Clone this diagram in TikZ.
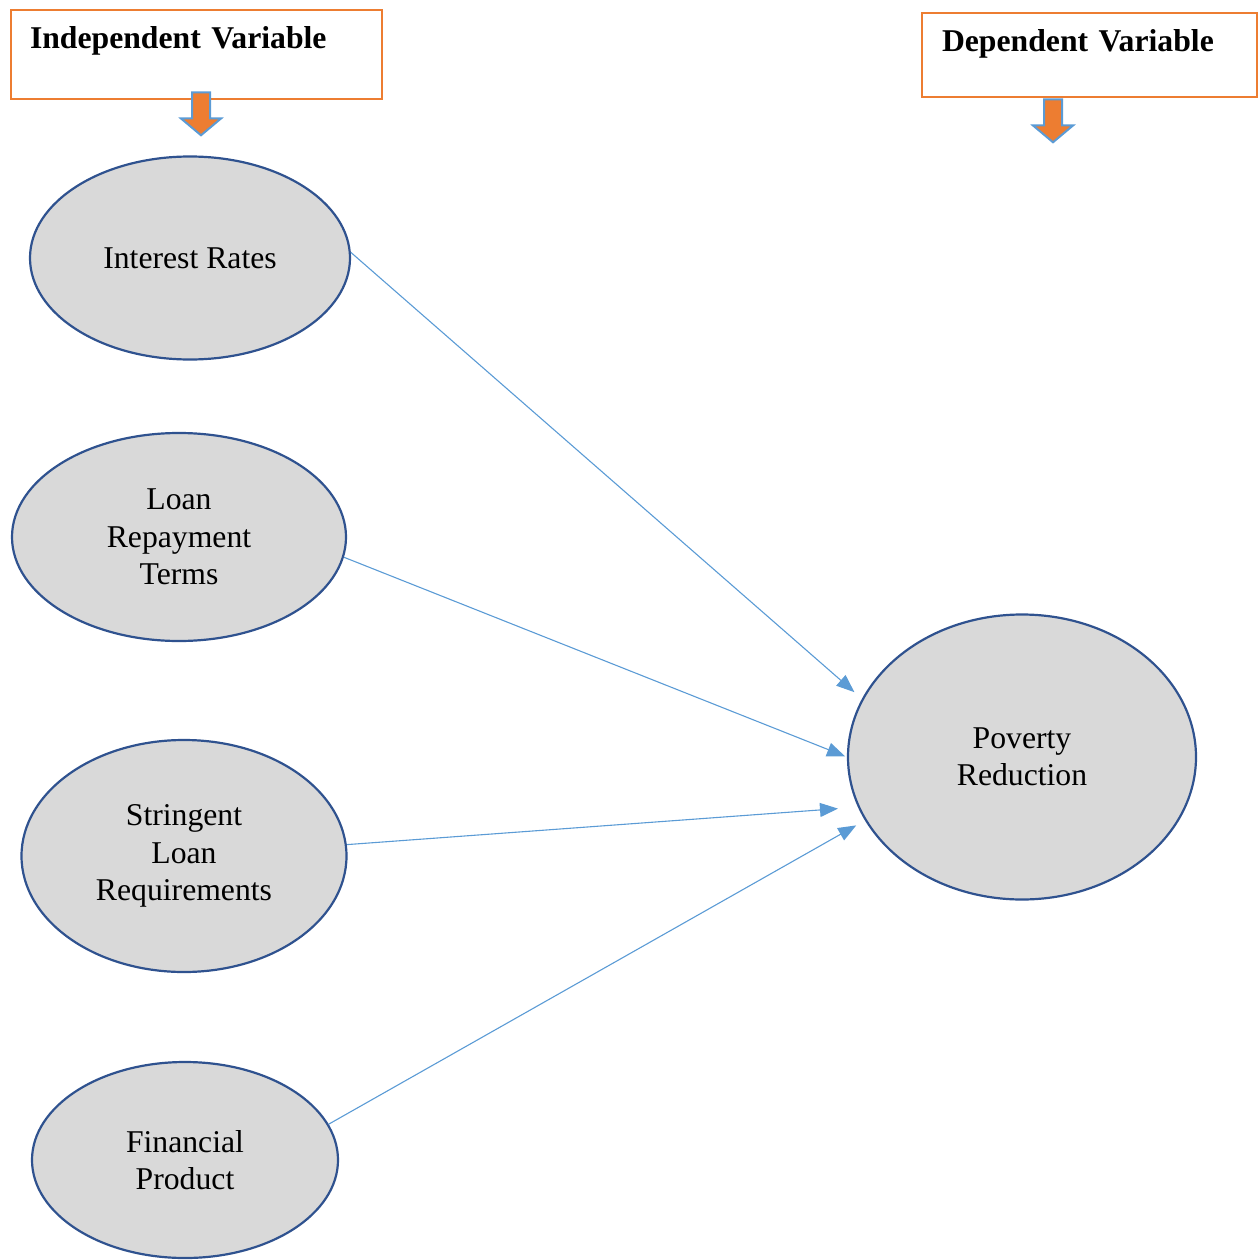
\documentclass[tikz,border=0pt]{standalone}
\usepackage{fontspec}
\setmainfont{Liberation Serif}
\usetikzlibrary{shapes.geometric,shapes.arrows,arrows.meta}
\definecolor{hdrorange}{HTML}{ED7D31}
\definecolor{linkblue}{HTML}{5B9BD5}
\definecolor{ovalgray}{HTML}{D9D9D9}
\definecolor{ovalblue}{HTML}{2F528F}

\begin{document}
\begin{tikzpicture}[x=1pt, y=-1pt,
    oval/.style={ellipse, draw=ovalblue, line width=2.2pt, fill=ovalgray, inner sep=0pt, align=center, font=\fontsize{31.7}{37.5}\selectfont},
    hdr/.style={rectangle, draw=hdrorange, line width=2pt, anchor=north west, inner ysep=0pt, align=left, font=\fontsize{31.7}{38}\selectfont\bfseries},
    hdrarrow/.style={single arrow, rotate=-90, fill=hdrorange, draw=linkblue, line width=2pt, minimum height=43pt, single arrow head extend=11pt, single arrow tip angle=100, inner xsep=0pt, inner ysep=8pt},
    link/.style={draw=linkblue, line width=1.1pt, -{Triangle[length=18pt,width=14pt]}}]
    \useasboundingbox (0,0) rectangle (1258,1260);

    % headers
    \node [hdr, inner xsep=19pt, text width=333pt, text height=39pt, text depth=50pt] (iv) at (10,9) {Independent Variable};
    \node [hdr, inner xsep=20pt, text width=295pt, text height=39pt, text depth=45pt] (dv) at (921,12) {Dependent Variable};
    \node [hdrarrow] (ivarrow) at (201,110) {};
    \node [hdrarrow] (dvarrow) at (1053,117) {};

    % variables
    \node [oval, minimum width=320pt, minimum height=203pt] (ir) at (190,258) {Interest Rates};
    \node [oval, minimum width=334pt, minimum height=208pt] (lrt) at (179,537) {Loan\\Repayment\\Terms};
    \node [oval, minimum width=325pt, minimum height=232pt] (slr) at (184,856) {Stringent\\Loan\\Requirements};
    \node [oval, minimum width=306pt, minimum height=196pt] (fp) at (185,1160) {Financial\\Product};
    \node [oval, minimum width=348pt, minimum height=285pt] (pr) at (1022,757) {Poverty\\Reduction};

    \draw [link, shorten >=10pt] (ir.2) -- (pr.160);
    \draw [link, shorten >=2pt] (lrt.-7) -- (pr.west);
    \draw [link, shorten >=20pt] (slr.4) -- (pr.197);
    \draw [link, shorten >=10pt] (fp.14.5) -- (pr.202.7);
\end{tikzpicture}
\end{document}
